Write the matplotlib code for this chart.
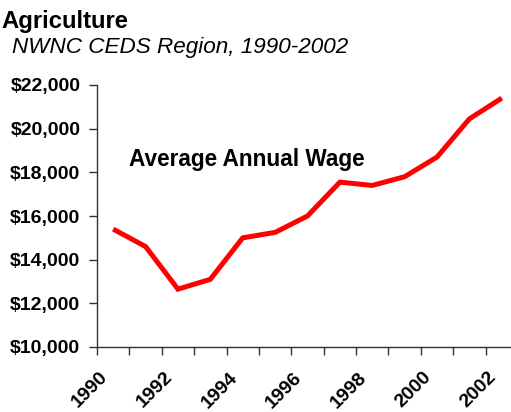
import matplotlib
matplotlib.use("Agg")
import matplotlib.pyplot as plt
import matplotlib.transforms as mtransforms
from matplotlib.ticker import FuncFormatter, FixedLocator

years = [1990, 1991, 1992, 1993, 1994, 1995, 1996, 1997, 1998, 1999, 2000, 2001, 2002]
wages = [15400, 14600, 12650, 13100, 15000, 15250, 16000, 17550, 17400, 17800, 18700, 20450, 21400]
year_labels = ["1990", "1992", "1994", "1996", "1998", "2000", "2002"]

fam = ["Liberation Sans", "DejaVu Sans"]

fig = plt.figure(figsize=(5.11, 4.12), dpi=100)
ax = fig.add_axes([97 / 511, 65 / 412, 421 / 511, 262 / 412])

x = list(range(len(years)))
ax.plot(x, wages, color="#ff0000", lw=3.6, solid_joinstyle="miter", solid_capstyle="butt")

ax.set_xlim(-0.5, len(years) - 0.5)
ax.set_ylim(10000, 22000)
ax.set_yticks(range(10000, 22001, 2000))
ax.yaxis.set_major_formatter(FuncFormatter(lambda v, p: "${:,.0f}".format(v)))

# tick marks sit between categories, labels on every other year
ax.xaxis.set_major_locator(FixedLocator([i - 0.5 for i in range(len(years) + 1)]))
ax.xaxis.set_major_formatter(FuncFormatter(lambda v, p: ""))
ax.xaxis.set_minor_locator(FixedLocator(x[::2]))
ax.set_xticklabels(year_labels, minor=True)
ax.tick_params(axis="x", which="minor", length=0, pad=20)
ax.tick_params(axis="x", which="major", length=6, width=1, color="#333333")
ax.tick_params(axis="y", length=6, width=1, color="#333333", pad=6)

shift = mtransforms.ScaledTranslation(-8 / 100, 0, fig.dpi_scale_trans)
for lab in ax.get_xticklabels(minor=True):
    lab.set_rotation(45)
    lab.set_rotation_mode("anchor")
    lab.set_ha("right")
    lab.set_va("center")
    lab.set_family(fam)
    lab.set_fontweight("bold")
    lab.set_fontsize(14)
    lab.set_transform(lab.get_transform() + shift)
for lab in ax.get_yticklabels():
    lab.set_family(fam)
    lab.set_fontweight("bold")
    lab.set_fontsize(14)

for side in ["top", "right"]:
    ax.spines[side].set_visible(False)
for side in ["left", "bottom"]:
    ax.spines[side].set_color("#333333")
    ax.spines[side].set_linewidth(1)

ax.text(0.5, 18300, "Average Annual Wage", family=fam, fontweight="bold",
        fontsize=16.3, ha="left", va="baseline")

fig.text(1 / 511, 1 - 28 / 412, "Agriculture", family=fam, fontweight="bold",
         fontsize=17.2, ha="left", va="baseline")
fig.text(12 / 511, 1 - 53 / 412, "NWNC CEDS Region, 1990-2002", family=fam,
         style="italic", fontsize=16.2, ha="left", va="baseline")

fig.savefig("out.png", dpi=100)
